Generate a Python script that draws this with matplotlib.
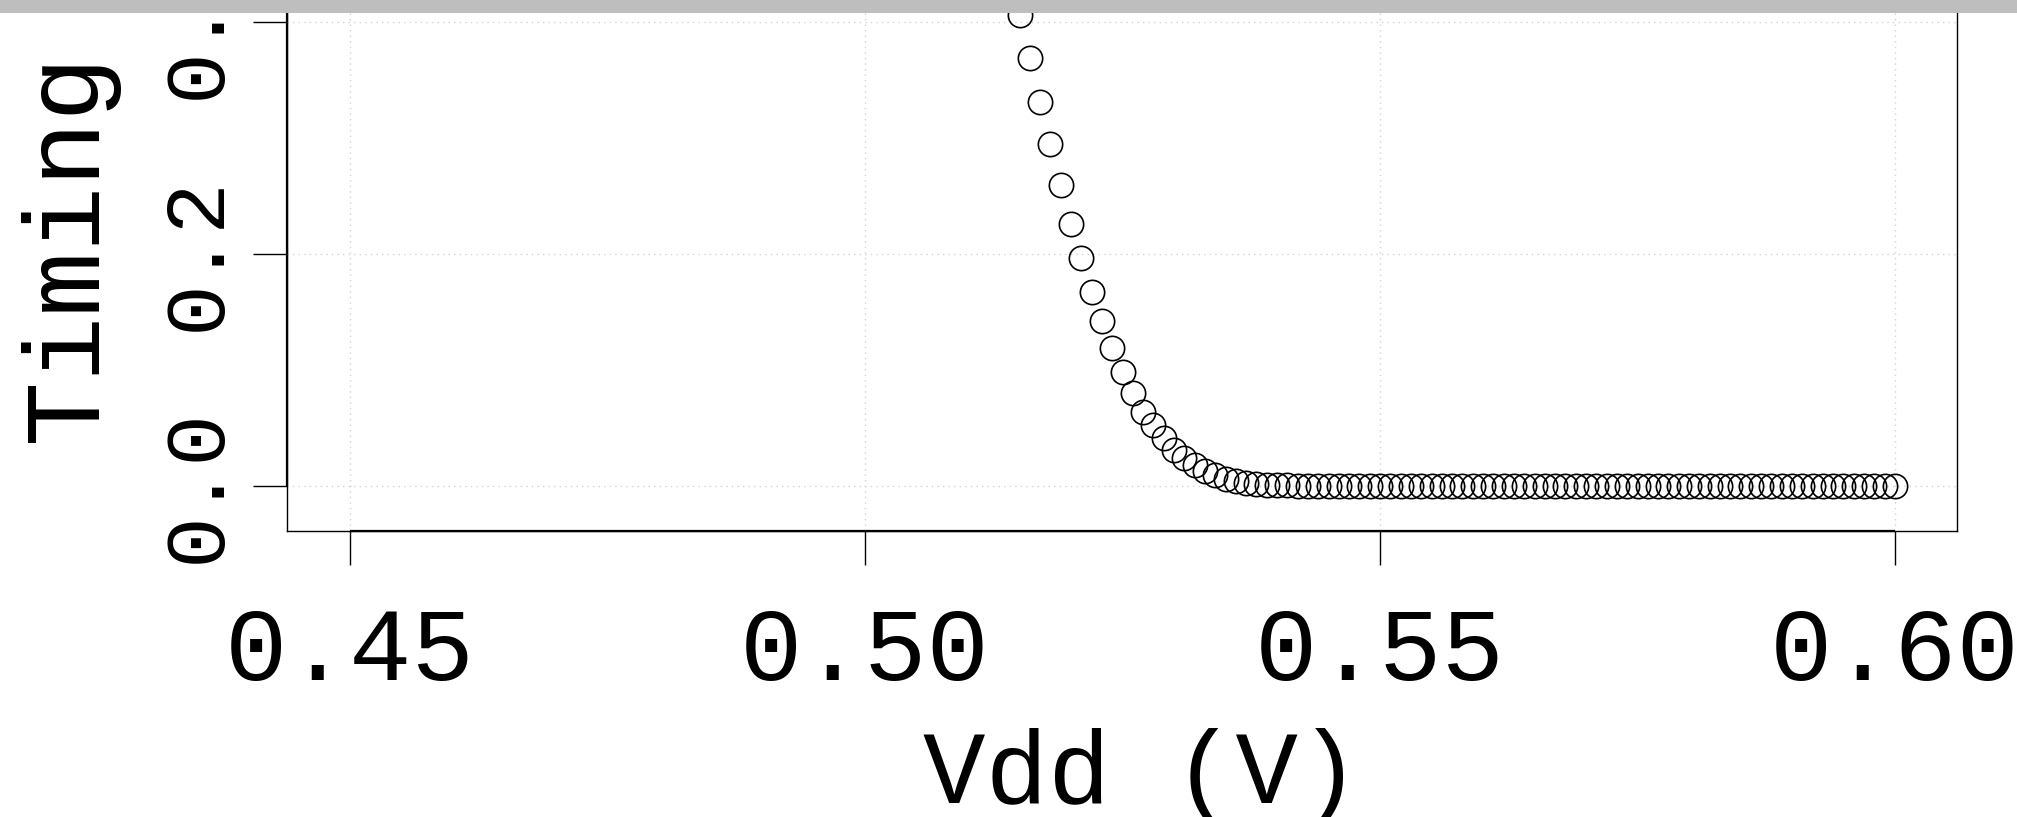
import numpy as np
import matplotlib
matplotlib.use("Agg")
import matplotlib.pyplot as plt
from matplotlib.patches import Rectangle

# ---------------- data ----------------
vdd = np.round(np.linspace(0.45, 0.60, 151), 3)

timing = [
    # 0.450 - 0.480
    0.990, 0.990, 0.990, 0.990, 0.990, 0.990, 0.990, 0.990, 0.990, 0.990,
    0.990, 0.990, 0.990, 0.990, 0.990, 0.990, 0.990, 0.990, 0.990, 0.990,
    0.990, 0.990, 0.990, 0.990, 0.990, 0.990, 0.990, 0.990, 0.990, 0.990,
    0.989,
    # 0.481 - 0.514
    0.989, 0.988, 0.988, 0.987, 0.986, 0.985, 0.984, 0.982, 0.979, 0.976,
    0.972, 0.967, 0.961, 0.954, 0.946, 0.936, 0.925, 0.912, 0.897, 0.880,
    0.861, 0.840, 0.816, 0.790, 0.762, 0.731, 0.699, 0.665, 0.630, 0.594,
    0.557, 0.520, 0.482, 0.444,
    # 0.515 - 0.543
    0.406, 0.369, 0.331, 0.295, 0.259, 0.226, 0.196, 0.167, 0.142, 0.119,
    0.098, 0.080, 0.064, 0.052, 0.041, 0.031, 0.024, 0.018, 0.013, 0.009,
    0.006, 0.004, 0.0025, 0.0015, 0.0009, 0.0005, 0.0003, 0.0002, 0.0001,
    # 0.544 - 0.600
    0.0, 0.0, 0.0, 0.0, 0.0, 0.0, 0.0, 0.0, 0.0, 0.0,
    0.0, 0.0, 0.0, 0.0, 0.0, 0.0, 0.0, 0.0, 0.0, 0.0,
    0.0, 0.0, 0.0, 0.0, 0.0, 0.0, 0.0, 0.0, 0.0, 0.0,
    0.0, 0.0, 0.0, 0.0, 0.0, 0.0, 0.0, 0.0, 0.0, 0.0,
    0.0, 0.0, 0.0, 0.0, 0.0, 0.0, 0.0, 0.0, 0.0, 0.0,
    0.0, 0.0, 0.0, 0.0, 0.0, 0.0, 0.0,
]

xticks = [0.45, 0.50, 0.55, 0.60]
xtick_labels = ["0.45", "0.50", "0.55", "0.60"]
yticks = [0.0, 0.2, 0.4, 0.6, 0.8, 1.0]
ytick_labels = ["0.0", "0.2", "0.4", "0.6", "0.8", "1.0"]
x_label = "Vdd (V)"
y_label = "Timing"

# ---------------- layout ----------------
W, H = 2017, 817
DPI = 100
FONT = ["Liberation Mono", "DejaVu Sans Mono"]

fig = plt.figure(figsize=(W / DPI, H / DPI), dpi=DPI)
fig.patch.set_facecolor("white")

px_left, px_right, px_bottom = 287, 1957, 531
xlo, xhi = 0.44388, 0.60602
ylo, yhi = -0.039, 1.0
px_per_y = 1160.0
ax_h_px = (yhi - ylo) * px_per_y
ax = fig.add_axes([px_left / W, (H - px_bottom) / H,
                   (px_right - px_left) / W, ax_h_px / H])
ax.set_xlim(xlo, xhi)
ax.set_ylim(ylo, yhi)

ax.set_axisbelow(True)
ax.grid(True, color="#d3d3d3", linestyle=(0, (1, 3)), linewidth=1.0)

ax.plot(vdd, timing, linestyle="none", marker="o", markerfacecolor="none",
        markeredgecolor="black", markersize=17.5, markeredgewidth=1.2)

for s in ax.spines.values():
    s.set_linewidth(1.0)
    s.set_color("black")

# R-style axis lines spanning the tick range
ax.plot([xticks[0], xticks[-1]], [ylo, ylo], color="black", lw=1.6,
        clip_on=False, solid_capstyle="butt")
ax.plot([xlo, xlo], [yticks[0], yhi], color="black", lw=1.6,
        clip_on=False, solid_capstyle="butt")

ax.set_xticks(xticks)
ax.set_xticklabels(xtick_labels, fontfamily=FONT, fontsize=75)
ax.set_yticks(yticks)
ax.set_yticklabels(ytick_labels, fontfamily=FONT, fontsize=62,
                   rotation=90, va="center", ha="right")
ax.tick_params(axis="both", direction="out", length=24.5, width=1.0,
               color="black")
ax.tick_params(axis="x", pad=29)
ax.tick_params(axis="y", pad=11)

fig.text(1142 / W, (H - 803) / H, x_label, fontfamily=FONT, fontsize=75,
         ha="center", va="baseline")
fig.text(68 / W, (H - 442) / H, y_label, fontfamily=FONT, fontsize=78,
         rotation=90, ha="center", va="bottom")

# grey band at the top
fig.add_artist(Rectangle((0, 1 - 13 / H), 1, 13 / H, transform=fig.transFigure,
                         facecolor="#bebebe", edgecolor="none", zorder=10))

fig.savefig("out.png", dpi=DPI)
